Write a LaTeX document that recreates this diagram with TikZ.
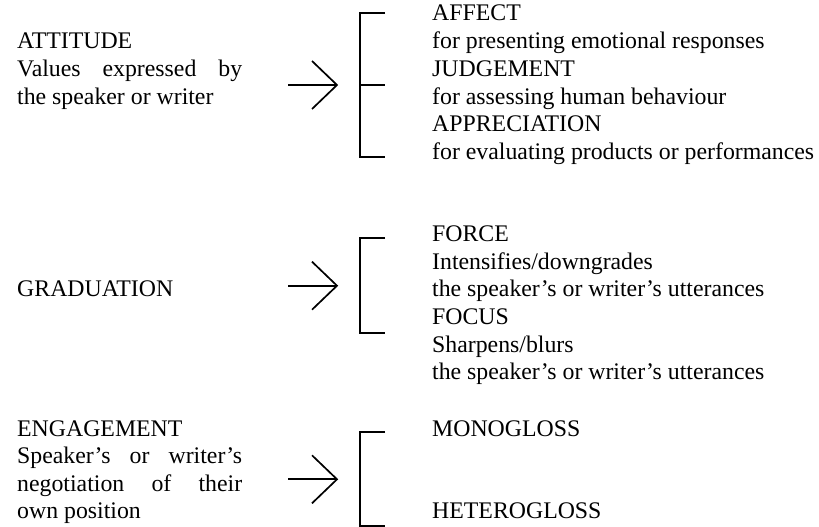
\documentclass[tikz,border=0pt]{standalone}
\usepackage{fontspec}
\setmainfont{Liberation Serif}
\begin{document}
\begin{tikzpicture}[x=1pt,y=-1pt,
  txt/.style={anchor=base west, inner sep=0pt, font=\fontsize{23.8}{27.6}\selectfont},
  brk/.style={line width=1.9pt},
  arr/.style={line width=1.7pt}]
\useasboundingbox (0,0) rectangle (819,527);
\fill[white] (0,0) rectangle (819,527);

% ---------- ATTITUDE ----------
\node[txt] (att1) at (17,48.4) {ATTITUDE};
\node[txt] (att2) at (17,76.2) {\makebox[225pt][s]{Values expressed by}};
\node[txt] (att3) at (17,104) {the speaker or writer};

\coordinate (t1) at (288,85);
\coordinate (h1) at (337,85);
\draw[arr] (t1) -- (h1);
\draw[arr] (h1) ++(-25,-24) -- (h1) -- ++(-25,24);

\coordinate (b1t) at (360,13);
\coordinate (b1m) at (360,85);
\coordinate (b1b) at (360,157);
\draw[brk] (385,13) -- (b1t) -- (b1b) -- (385,157);
\draw[brk] (b1m) -- (385,85);

\node[txt] (r11) at (432,20.7) {AFFECT};
\node[txt] (r12) at (432,48.5) {for presenting emotional responses};
\node[txt] (r13) at (432,76.3) {JUDGEMENT};
\node[txt] (r14) at (432,104.1) {for assessing human behaviour};
\node[txt] (r15) at (432,131.9) {APPRECIATION};
\node[txt] (r16) at (432,159.7) {for evaluating products or performances};

% ---------- GRADUATION ----------
\node[txt] (gra) at (17,296.9) {GRADUATION};

\coordinate (t2) at (288,285.7);
\coordinate (h2) at (337,285.7);
\draw[arr] (t2) -- (h2);
\draw[arr] (h2) ++(-25,-24) -- (h2) -- ++(-25,24);

\coordinate (b2t) at (360,238.3);
\coordinate (b2b) at (360,333.3);
\draw[brk] (385,238.3) -- (b2t) -- (b2b) -- (385,333.3);

\node[txt] (r21) at (432,241.7) {FORCE};
\node[txt] (r22) at (432,269.3) {Intensifies/downgrades};
\node[txt] (r23) at (432,296.9) {the speaker’s or writer’s utterances};
\node[txt] (r24) at (432,324.5) {FOCUS};
\node[txt] (r25) at (432,352.1) {Sharpens/blurs};
\node[txt] (r26) at (432,379.7) {the speaker’s or writer’s utterances};

% ---------- ENGAGEMENT ----------
\node[txt] (eng1) at (17,436) {ENGAGEMENT};
\node[txt] (eng2) at (17,463.6) {\makebox[225pt][s]{Speaker’s or writer’s}};
\node[txt] (eng3) at (17,491.2) {\makebox[225pt][s]{negotiation of their}};
\node[txt] (eng4) at (17,518.8) {own position};

\coordinate (t3) at (288,479.3);
\coordinate (h3) at (337,479.3);
\draw[arr] (t3) -- (h3);
\draw[arr] (h3) ++(-25,-24) -- (h3) -- ++(-25,24);

\coordinate (b3t) at (360,431.7);
\coordinate (b3b) at (360,526);
\draw[brk] (385,431.7) -- (b3t) -- (b3b) -- (385,526);

\node[txt] (r31) at (432,436) {MONOGLOSS};
\node[txt] (r32) at (432,518) {HETEROGLOSS};
\end{tikzpicture}
\end{document}
